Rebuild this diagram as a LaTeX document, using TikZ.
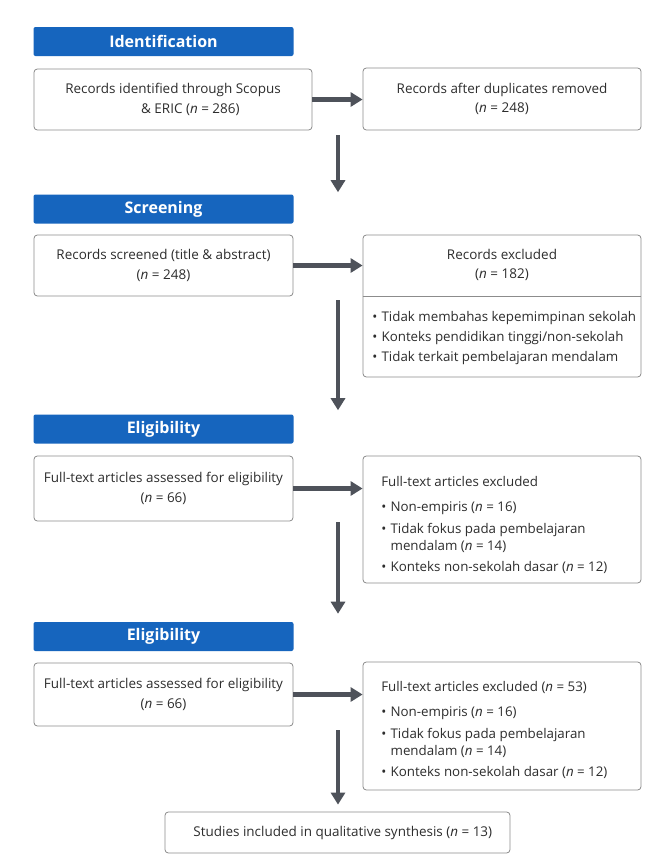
\documentclass[tikz,border=0pt]{standalone}
\usepackage{fontspec}
\setmainfont{Open Sans}
\usepackage{tikz}
\usetikzlibrary{arrows.meta,calc,positioning}
\definecolor{phaseblue}{RGB}{22,101,190}
\definecolor{boxline}{RGB}{140,140,140}
\definecolor{flowgray}{RGB}{78,82,90}
\definecolor{bodytext}{RGB}{45,45,45}
\tikzset{
  phasehead/.style={fill=phaseblue,rounded corners=1.5pt,text=white,
    font=\fontsize{12}{14}\selectfont\bfseries,
    minimum width=195pt,minimum height=21.75pt,inner sep=0pt},
  recbox/.style={draw=boxline,line width=0.6pt,rounded corners=2.5pt,fill=white,
    text=bodytext,align=center,font=\fontsize{10.1}{14.5}\selectfont,inner sep=0pt},
  listtext/.style={text=bodytext,align=left,font=\fontsize{10}{13}\selectfont,inner sep=0pt},
  flowarrow/.style={draw=flowgray,line width=3.4pt,-{Triangle[length=9pt,width=10.5pt]}},
}
\newcommand{\nval}[1]{(\textit{n} = #1)}
\newcommand{\bul}{\makebox[0.7em][l]{\textbullet}}
\newcommand{\bulgap}{\hspace*{0.7em}}

\begin{document}
\begin{tikzpicture}[x=0.75pt,y=-0.75pt]
  \useasboundingbox[fill=white] (0,0) rectangle (654,857);
  \coordinate (spine) at (338,0);
  % phase headers
  \node[phasehead] (hdrA) at (163.5,41.5) {Identification};
  \node[phasehead] (hdrB) at (163.5,209) {Screening};
  \node[phasehead] (hdrC) at (163.5,429) {Eligibility};
  \node[phasehead] (hdrD) at (163.5,636.5) {Eligibility};
  % left column
  \node[recbox,minimum width=208.5pt,minimum height=45.75pt] (ident) at (173,99.5)
    {Records identified through Scopus\\\hspace*{26pt}\& ERIC \nval{286}};
  \node[recbox,minimum width=194.25pt,minimum height=45.75pt] (screen) at (163.5,265.5)
    {Records screened (title \& abstract)\\\nval{248}};
  \node[recbox,minimum width=194.25pt,minimum height=48.75pt] (fullA) at (163.5,488.5)
    {Full-text articles assessed for eligibility\\\nval{66}};
  \node[recbox,minimum width=194.25pt,minimum height=47.25pt] (fullB) at (163.5,694.5)
    {Full-text articles assessed for eligibility\\\nval{66}};
  % right column
  \node[recbox,minimum width=208.5pt,minimum height=46.5pt] (dedup) at (502,99)
    {Records after duplicates removed\\\nval{248}};
  \node[recbox,minimum width=208.5pt,minimum height=106.5pt] (excl) at (502,306) {};
  \node[recbox,draw=none,fill=none] (exclhead) at (502,265) {Records excluded\\\nval{182}};
  \coordinate (divy) at (0,296);
  \draw[boxline,line width=0.6pt] (excl.west |- divy) -- (excl.east |- divy);
  \node[listtext,anchor=north west] (excllist) at (372,311)
    {\bul Tidak membahas kepemimpinan sekolah\\[2pt]
     \bul Konteks pendidikan tinggi/non-sekolah\\[2pt]
     \bul Tidak terkait pembelajaran mendalam};
  \node[recbox,minimum width=208.5pt,minimum height=95.25pt] (exclA) at (502,519.5) {};
  \node[listtext,anchor=north west] (exclAlist) at (381,476)
    {Full-text articles excluded\\[6pt]
     \bul Non-empiris \nval{16}\\[3pt]
     \bul Tidak fokus pada pembelajaran\\
     \bulgap mendalam \nval{14}\\[3pt]
     \bul Konteks non-sekolah dasar \nval{12}};
  \node[recbox,minimum width=208.5pt,minimum height=96pt] (exclB) at (502,726) {};
  \node[listtext,anchor=north west] (exclBlist) at (381,681)
    {Full-text articles excluded \nval{53}\\[6pt]
     \bul Non-empiris \nval{16}\\[3pt]
     \bul Tidak fokus pada pembelajaran\\
     \bulgap mendalam \nval{14}\\[3pt]
     \bul Konteks non-sekolah dasar \nval{12}};
  % final
  \node[recbox,minimum width=258.75pt,minimum height=30.75pt] (incl) at (337.5,832.5)
    {\hspace*{8pt}Studies included in qualitative synthesis \nval{13}};
  % arrows
  \draw[flowarrow] (ident.east) -- (ident.east -| dedup.west);
  \draw[flowarrow] (screen.east) -- (screen.east -| excl.west);
  \draw[flowarrow] (fullA.east) -- (fullA.east -| exclA.west);
  \draw[flowarrow] (fullB.east) -- (fullB.east -| exclB.west);
  \draw[flowarrow] ($(ident.south -| spine)+(0,5)$) -- ($(hdrB.north -| spine)+(0,-2)$);
  \draw[flowarrow] ($(screen.south -| spine)+(0,4)$) -- ($(hdrC.north -| spine)+(0,-4)$);
  \draw[flowarrow] ($(fullA.south -| spine)+(0,1)$) -- ($(hdrD.north -| spine)+(0,-8)$);
  \draw[flowarrow] ($(fullB.south -| spine)+(0,4)$) -- ($(incl.north -| spine)+(0,-7)$);
\end{tikzpicture}
\end{document}
